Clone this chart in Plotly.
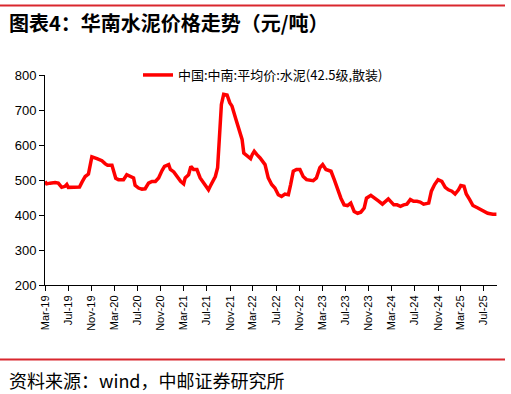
import plotly.graph_objects as go

dates = [
    "2019-03-01", "2019-03-10", "2019-03-27", "2019-04-23", "2019-05-10", "2019-05-28",
    "2019-06-15", "2019-06-24", "2019-07-02", "2019-07-20", "2019-08-16", "2019-08-30",
    "2019-09-12", "2019-09-29", "2019-10-16", "2019-10-25", "2019-11-03", "2019-11-30",
    "2019-12-26", "2020-01-13", "2020-01-25", "2020-02-17", "2020-02-26", "2020-03-08",
    "2020-03-22", "2020-04-18", "2020-05-05", "2020-05-23", "2020-06-10", "2020-06-18",
    "2020-07-06", "2020-07-24", "2020-08-10", "2020-08-28", "2020-09-15", "2020-10-03",
    "2020-10-20", "2020-11-07", "2020-11-20", "2020-12-12", "2020-12-21", "2021-01-08",
    "2021-01-26", "2021-02-13", "2021-03-01", "2021-03-09", "2021-03-27", "2021-04-08",
    "2021-04-22", "2021-05-10", "2021-05-27", "2021-06-14", "2021-07-01", "2021-07-10",
    "2021-07-19", "2021-08-03", "2021-08-15", "2021-08-27", "2021-09-07", "2021-09-16",
    "2021-09-28", "2021-10-16", "2021-10-30", "2021-11-11", "2021-11-29", "2021-12-11",
    "2021-12-25", "2022-01-03", "2022-01-12", "2022-01-30", "2022-02-17", "2022-02-26",
    "2022-03-08", "2022-03-21", "2022-04-08", "2022-05-04", "2022-05-21", "2022-06-08",
    "2022-06-25", "2022-07-13", "2022-07-30", "2022-08-17", "2022-09-04", "2022-09-16",
    "2022-09-30", "2022-10-17", "2022-11-04", "2022-11-21", "2022-12-09", "2023-01-13",
    "2023-01-30", "2023-02-17", "2023-03-04", "2023-03-21", "2023-04-17", "2023-05-04",
    "2023-05-21", "2023-06-08", "2023-06-25", "2023-07-13", "2023-07-30", "2023-08-17",
    "2023-09-04", "2023-09-21", "2023-10-09", "2023-10-21", "2023-11-13", "2023-11-30",
    "2023-12-26", "2024-01-13", "2024-01-30", "2024-02-13", "2024-02-25", "2024-03-13",
    "2024-03-30", "2024-04-17", "2024-05-04", "2024-05-21", "2024-06-08", "2024-06-25",
    "2024-07-13", "2024-07-30", "2024-08-17", "2024-09-13", "2024-09-27", "2024-10-14",
    "2024-11-01", "2024-11-21", "2024-12-09", "2024-12-26", "2025-01-13", "2025-01-30",
    "2025-02-17", "2025-03-01", "2025-03-18", "2025-03-30", "2025-04-17", "2025-05-04",
    "2025-05-30", "2025-06-17", "2025-07-04", "2025-07-21", "2025-08-17", "2025-09-05",
]

prices = [
    496, 489, 491, 493, 491, 479,
    482, 487, 479, 479, 478, 480,
    494, 510, 517, 540, 566, 561,
    555, 546, 542, 542, 525, 505,
    501, 501, 515, 510, 506, 485,
    477, 474, 475, 491, 496, 496,
    506, 527, 539, 544, 530, 523,
    510, 496, 489, 506, 515, 539,
    530, 530, 506, 491, 477, 472,
    482, 501, 510, 535, 620, 716,
    745, 743, 721, 711, 678, 659,
    630, 616, 577, 568, 561, 573,
    582, 573, 563, 544, 506, 487,
    477, 458, 453, 460, 458, 487,
    525, 530, 530, 510, 501, 498,
    506, 535, 544, 530, 525, 501,
    472, 448, 429, 427, 434, 410,
    405, 408, 420, 448, 456, 448,
    439, 431, 439, 446, 439, 429,
    429, 425, 429, 431, 444, 439,
    439, 437, 431, 434, 468, 487,
    501, 496, 479, 472, 468, 460,
    472, 484, 482, 460, 444, 427,
    420, 415, 412, 405, 402, 402,
]

series_name = "中国:中南:平均价:水泥(42.5级,散装)"
title_text = "<b>图表4：华南水泥价格走势（元/吨）</b>"
source_text = "资料来源：wind，中邮证券研究所"

W, H = 511, 394
L, R, T, B = 45, 14, 75, 109
pw, ph = W - L - R, H - T - B

def px_x(x):
    return (x - L) / pw

def px_y(y):
    return (H - B - y) / ph

fig = go.Figure()
fig.add_trace(go.Scatter(
    x=dates, y=prices, mode="lines", name=series_name,
    line=dict(color="#FF0000", width=3.5),
))

fig.update_layout(
    width=W, height=H,
    margin=dict(l=L, r=R, t=T, b=B, pad=0),
    paper_bgcolor="white", plot_bgcolor="white",
    font=dict(family="Liberation Sans, Arial, sans-serif", color="#000000"),
    showlegend=True,
    legend=dict(
        x=px_x(138), y=px_y(75), xanchor="left", yanchor="middle",
        bgcolor="rgba(0,0,0,0)",
        font=dict(family="Noto Sans CJK SC", size=13, color="#000"),
        itemwidth=30,
    ),
    xaxis=dict(
        type="date",
        range=["2019-03-01", "2025-09-08"],
        tickmode="linear", tick0="2019-03-01", dtick="M4",
        tickformat="%b-%y", tickangle=-90,
        tickfont=dict(size=11, family="Liberation Sans, Arial, sans-serif"),
        showline=True, linecolor="#000", linewidth=1,
        ticks="outside", ticklen=5, tickcolor="#000",
        showgrid=False, zeroline=False,
    ),
    yaxis=dict(
        range=[200, 800], tickmode="linear", tick0=200, dtick=100,
        tickfont=dict(size=13, family="Liberation Sans, Arial, sans-serif"),
        showline=True, linecolor="#000", linewidth=1,
        ticks="outside", ticklen=5, tickcolor="#000",
        showgrid=False, zeroline=False,
    ),
    shapes=[
        dict(type="line", xref="paper", yref="paper",
             x0=px_x(0), x1=px_x(505), y0=px_y(5.5), y1=px_y(5.5),
             line=dict(color="#D9272E", width=2)),
        dict(type="line", xref="paper", yref="paper",
             x0=px_x(0), x1=px_x(505), y0=px_y(359.5), y1=px_y(359.5),
             line=dict(color="#D9272E", width=2)),
    ],
    annotations=[
        dict(text=title_text, xref="paper", yref="paper",
             x=px_x(7), y=px_y(22), xanchor="left", yanchor="middle",
             showarrow=False,
             font=dict(family="Noto Sans CJK SC", size=20, color="#000")),
        dict(text=source_text, xref="paper", yref="paper",
             x=px_x(7), y=px_y(380), xanchor="left", yanchor="middle",
             showarrow=False,
             font=dict(family="Noto Sans CJK SC", size=18, color="#000")),
    ],
)

fig.write_html(
    "out.html",
    config={"displayModeBar": False},
    post_script="document.body.style.margin='0';document.body.style.overflow='hidden';",
)
